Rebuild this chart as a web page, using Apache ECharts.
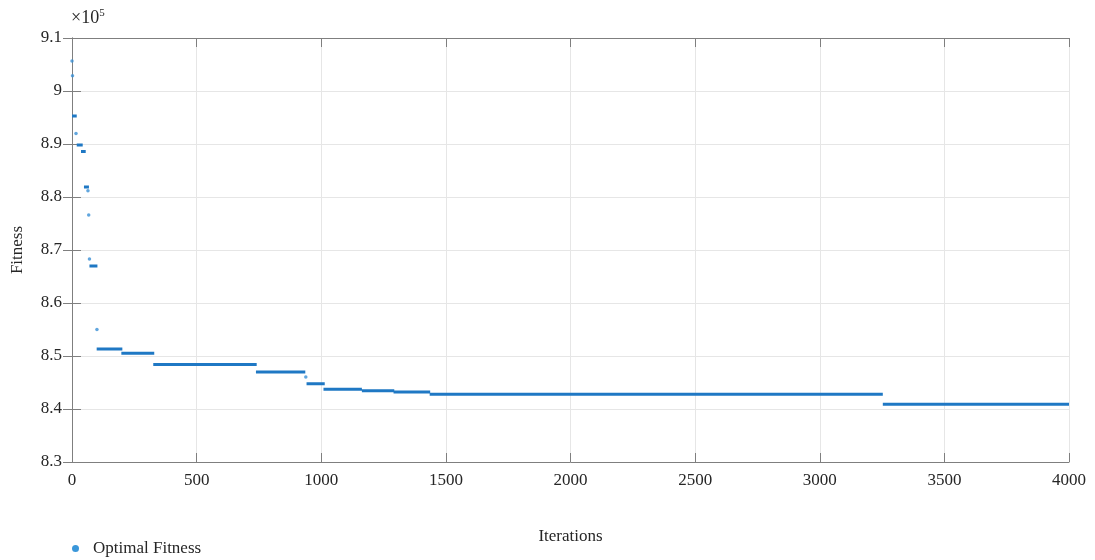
<!DOCTYPE html>
<html><head><meta charset="utf-8">
<script src="https://cdn.jsdelivr.net/npm/echarts@6/dist/echarts.min.js"></script>
<style>html,body{margin:0;padding:0;background:#fff}#c{width:1095px;height:560px}</style>
</head><body><div id="c"></div>
<script>
// Horizontal runs of the optimal fitness: [startIteration, endIteration, fitness]
const segStart = [0, 19, 36, 48, 70, 99, 198, 326, 738, 941, 1009, 1163, 1290, 1435, 3253];
const segEnd   = [19, 43, 55, 68, 102, 202, 330, 741, 936, 1014, 1163, 1293, 1437, 3253, 4000];
const segValue = [895300, 889800, 888600, 881900, 867000, 851300, 850500, 848400, 847000, 844770, 843720, 843450, 843200, 842770, 840900];
// Isolated single points: iteration and fitness
const dotIter  = [0, 2, 16, 64, 67, 70, 100, 938];
const dotValue = [905660, 902900, 892000, 881200, 876600, 868300, 855000, 846040];
const xTicks = [0, 500, 1000, 1500, 2000, 2500, 3000, 3500, 4000];
const yTickLabels = ['8.3','8.4','8.5','8.6','8.7','8.8','8.9','9','9.1'];

const lineData = [];
for (let i = 0; i < segStart.length; i++) {
  lineData.push([segStart[i], segValue[i]], [segEnd[i], segValue[i]], '-');
}
const dotData = dotIter.map((x, i) => [x, dotValue[i]]);

const font = '"Liberation Serif", "DejaVu Serif", serif';
const axisCol = '#7f7f7f';
const blue = '#1F78C4';
const chart = echarts.init(document.getElementById('c'));
const common = {
  axisLine: {show: true, lineStyle: {color: axisCol, width: 1}},
  axisTick: {show: true, inside: true, length: 9, lineStyle: {color: axisCol}},
};
chart.setOption({
  animation: false,
  grid: {left: 72, right: 26, top: 38, bottom: 98, containLabel: false, outerBoundsMode: 'none'},
  xAxis: [
    Object.assign({type: 'value', min: 0, max: 4000, interval: 500,
      name: 'Iterations', nameLocation: 'middle', nameGap: 66,
      nameTextStyle: {fontFamily: font, fontSize: 17, color: '#262626'},
      axisLabel: {fontFamily: font, fontSize: 17, color: '#262626', margin: 10,
        formatter: v => xTicks.includes(v) ? String(v) : ''},
      splitLine: {show: true, lineStyle: {color: '#e6e6e6'}}}, common),
    Object.assign({type: 'value', min: 0, max: 4000, interval: 500, position: 'top',
      axisLabel: {show: false}, splitLine: {show: false}}, common)
  ],
  yAxis: [
    Object.assign({type: 'value', min: 830000, max: 910000, interval: 10000,
      name: 'Fitness', nameLocation: 'middle', nameGap: 46, nameRotate: 90,
      nameTextStyle: {fontFamily: font, fontSize: 17, color: '#262626'},
      axisLabel: {fontFamily: font, fontSize: 17, color: '#262626', margin: 10,
        formatter: v => yTickLabels[Math.round((v - 830000) / 10000)]},
      splitLine: {show: true, lineStyle: {color: '#e6e6e6'}}}, common),
    Object.assign({type: 'value', min: 830000, max: 910000, interval: 10000, position: 'right',
      axisLabel: {show: false}, splitLine: {show: false}}, common)
  ],
  legend: {
    left: 72, top: 540, padding: 0, orient: 'vertical', icon: 'circle', itemWidth: 7, itemHeight: 7, itemGap: 4,
    textStyle: {fontFamily: font, fontSize: 17, color: '#262626', padding: [0, 0, 0, 9]},
    data: [{name: 'Optimal Fitness', itemStyle: {color: '#3A97DA'}}]
  },
  graphic: [{
    type: 'text', left: 71, top: 8,
    style: {text: '×10{s|5}', fontFamily: font, fontSize: 18, fill: '#262626',
      rich: {s: {fontFamily: font, fontSize: 11, verticalAlign: 'top', padding: [0,0,9,0]}}}
  }],
  series: [
    {name: 'Optimal Fitness', type: 'line', data: lineData, showSymbol: false, connectNulls: false,
      lineStyle: {color: blue, width: 3}, itemStyle: {color: blue}, silent: true},
    {name: 'Optimal Fitness', type: 'scatter', data: dotData, symbolSize: 3.5,
      itemStyle: {color: '#3A90D6'}, silent: true}
  ]
});
</script></body></html>
